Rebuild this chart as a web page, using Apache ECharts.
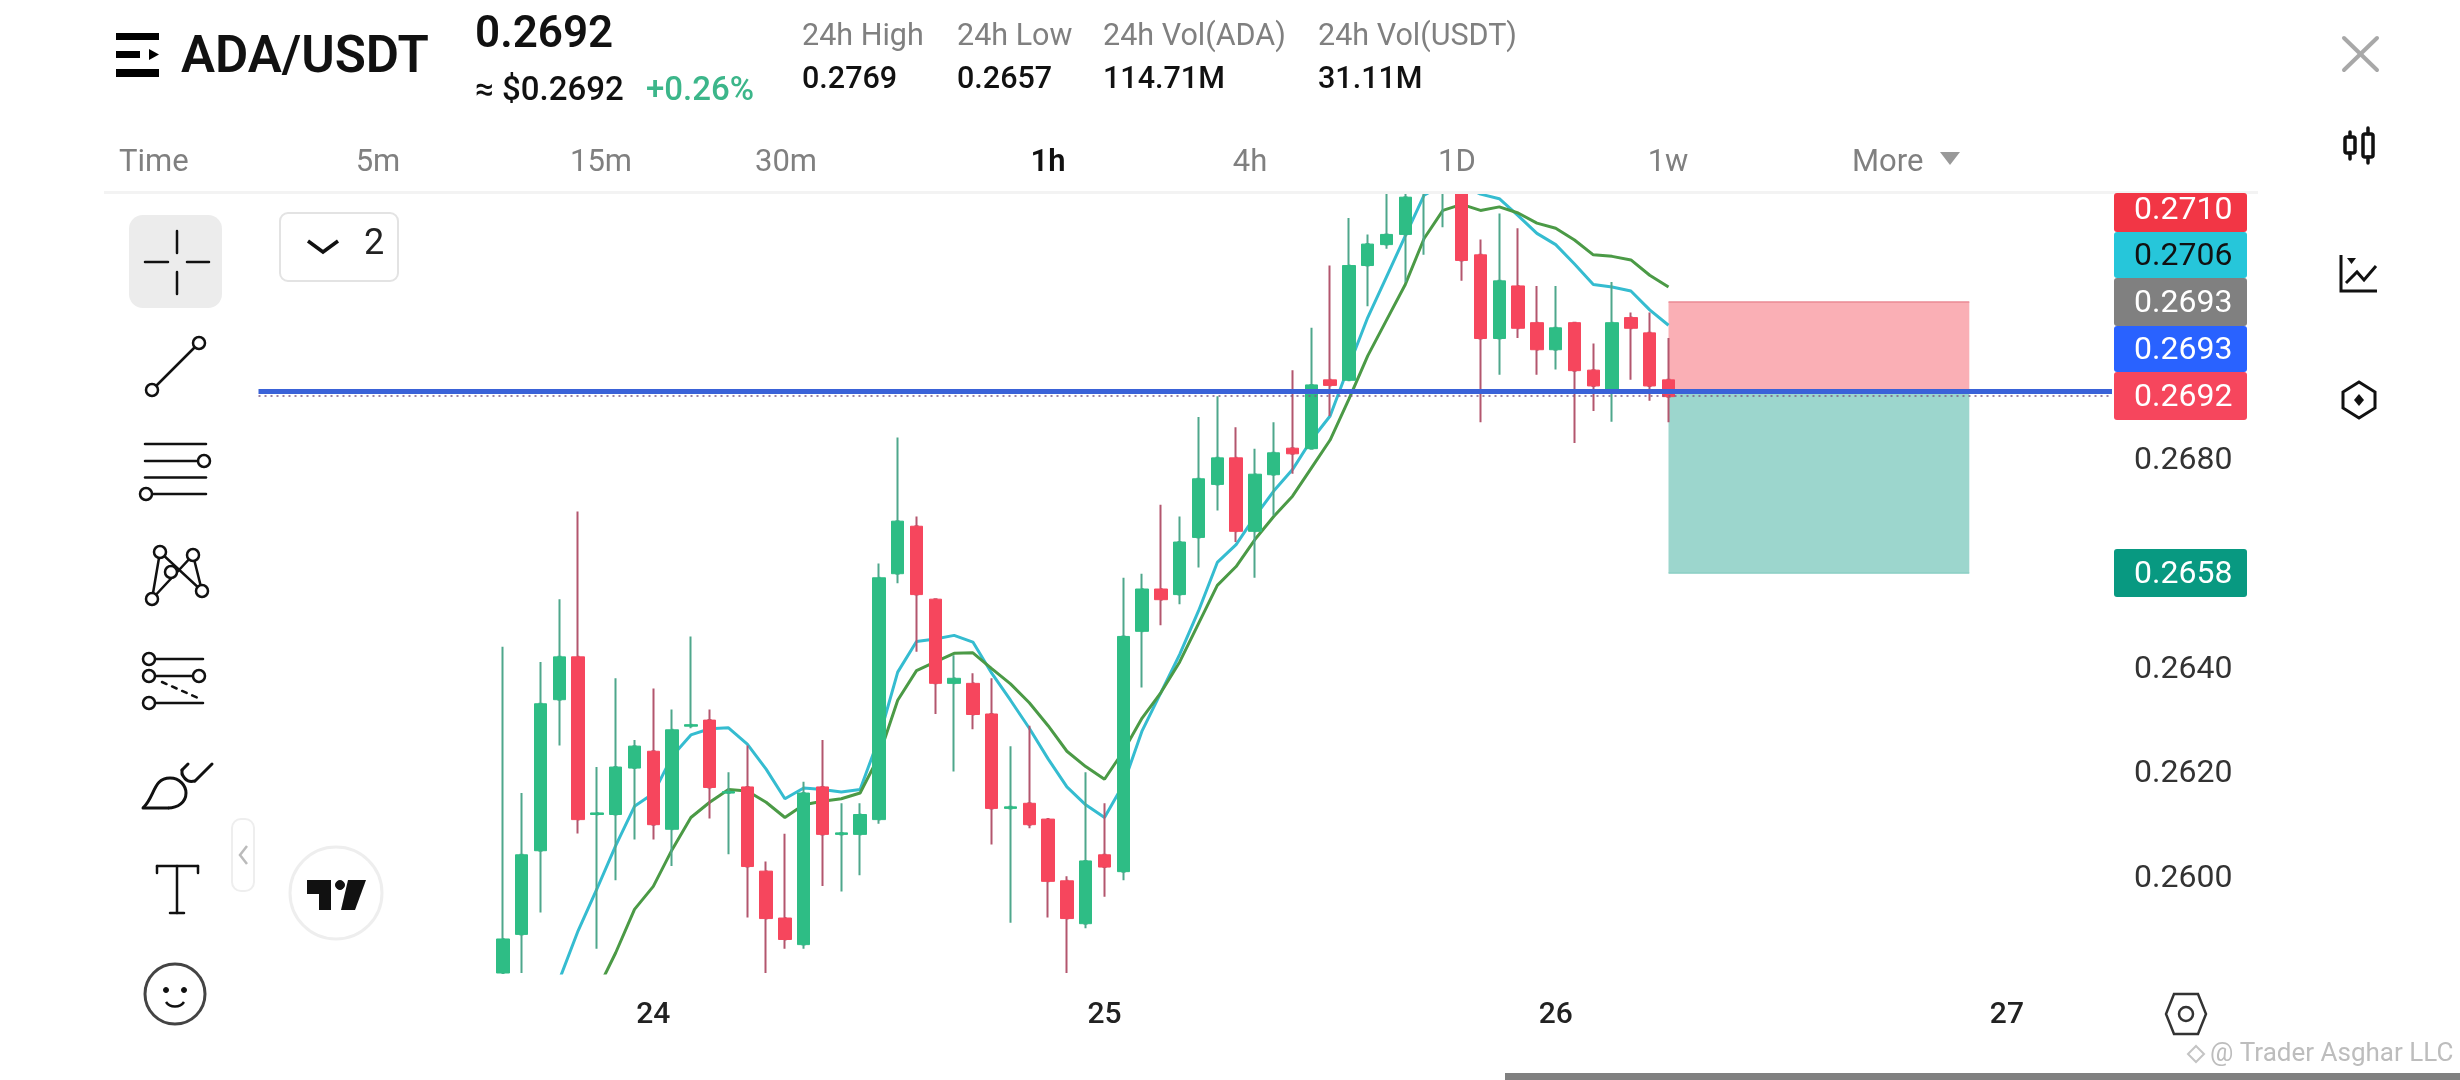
<!DOCTYPE html>
<html><head><meta charset="utf-8">
<style>html,body{margin:0;padding:0;background:#fff}#c{width:2460px;height:1080px}</style>
<script src="https://cdn.jsdelivr.net/npm/echarts@6/dist/echarts.min.js"></script>
</head><body><div id="c"></div>
<script>
// [open, close, low, high] for each 1h candle, first candle at 16:00 on the 23rd
const candles = [
[.257884,.258784,.257689,.264385],[.258872,.260397,.257880,.261580],[.260475,.263291,.259292,.264092],[.263369,.264190,.262489,.265295],
[.264190,.261071,.260807,.266976],[.261169,.261199,.258598,.262078],[.261169,.262078,.259908,.263779],[.262059,.262479,.260690,.262596],
[.262381,.260974,.260690,.263584],[.260886,.262792,.260182,.263183],[.262861,.262890,.262822,.264581],[.262978,.261687,.261091,.263183],
[.261580,.261609,.260407,.261981],[.261697,.260172,.259194,.262489],[.260084,.259175,.258080,.260270],[.259185,.258774,.258598,.260798],
[.258676,.261580,.258598,.261795],[.261697,.260788,.259801,.262596],[.260788,.260817,.259693,.261384],[.260788,.261169,.260003,.261384],
[.261071,.265705,.260993,.265979],[.265783,.266790,.265598,.268394],[.266693,.265383,.264288,.266878],[.265295,.263682,.263095,.265295],
[.263682,.263779,.261991,.264219],[.263682,.263085,.262802,.263877],[.263095,.261286,.260592,.263779],[.261286,.261316,.259097,.262479],
[.261384,.260974,.260905,.262870],[.261081,.259888,.259194,.261081],[.259899,.259175,.258080,.259986],[.259077,.260279,.258989,.261981],
[.260397,.260162,.259595,.261384],[.260074,.264581,.259908,.265705],[.264679,.265490,.263604,.265783],[.265490,.265285,.264796,.267103],
[.265383,.266390,.265197,.266878],[.266478,.267602,.265901,.268785],[.267494,.268003,.266996,.269185],[.268003,.266595,.266390,.268589],
[.266595,.267690,.265705,.268179],[.267680,.268100,.266898,.268687],[.268188,.268081,.267700,.269684],[.268179,.269401,.268179,.270495],
[.269498,.269391,.268804,.271688],[.269489,.271688,.269489,.272597],[.271688,.272099,.270906,.272284],[.272089,.272284,.272011,.273526],
[.272284,.272998,.271375,.273233],[.273331,.274406,.271893,.274895],[.274406,.273331,.272421,.274895],[.273331,.271786,.271395,.273526],
[.271893,.270290,.268687,.272187],[.270290,.271395,.269596,.272685],[.271297,.270486,.270300,.272402],[.270593,.270075,.269596,.271297],
[.270075,.270495,.269694,.271297],[.270593,.269674,.268286,.270593],[.269684,.269381,.268902,.270192],[.269273,.270593,.268697,.271375],
[.270691,.270486,.269498,.270789],[.270398,.269381,.269098,.270789],[.269498,.269176,.268687,.270300]];
// moving averages, index matched to candles (null: not drawn)
const maFast = [null,null,null,.258002,.258940,.259742,.260573,.261326,.261570,.262284,.262694,.262812,.262831,.262518,.262039,.261472,.261678,.261648,.261600,.261648,.262626,.263897,.264483,.264532,.264601,.264473,.263877,.263359,.262822,.262235,.261697,.261355,.261111,.261746,.262772,.263506,.264239,.265070,.265999,.266341,.266878,.267367,.267778,.268345,.268804,.269762,.270691,.271473,.272255,.273037,.273233,.273233,.273057,.272969,.272646,.272304,.272089,.271717,.271326,.271278,.271199,.270838,.270544];
const maSlow = [null,null,null,null,null,.257787,.258520,.259351,.259791,.260495,.261111,.261404,.261648,.261619,.261404,.261111,.261355,.261423,.261472,.261580,.262284,.263359,.263926,.264092,.264258,.264268,.263965,.263672,.263310,.262870,.262381,.262088,.261844,.262381,.263017,.263506,.264092,.264825,.265559,.265920,.266438,.266878,.267269,.267807,.268345,.269127,.269958,.270642,.271326,.272206,.272744,.272861,.272744,.272812,.272695,.272500,.272402,.272177,.271893,.271864,.271796,.271502,.271278];
const hours = candles.map((c, i) => 16 + i);
const dayTicks = [24, 48, 72, 96];
const dayLabels = {24:'24', 48:'25', 72:'26', 96:'27'};
const priceTicks = [0.2600, 0.2620, 0.2640, 0.2680];
const levelBlue = 0.26928, levelLast = 0.26919;
const posTop = 0.27099, posEntry = 0.26928, posBottom = 0.26580;
const posStart = 78, posEnd = 94;
const yMin = 0.258132, yMax = 0.273078;
const tagTexts = ['0.2710','0.2706','0.2693','0.2693','0.2692','0.2658'];
const tagColors = ['#f23645','#26c6da','#808080','#2962ff','#f6465d','#089981'];
const tagInk = ['#fff','#111','#fff','#fff','#fff','#fff'];
const tagBoxes = [[193,39],[232,46],[278,48],[326,46],[372,48],[549,48]];
const headerStats = [['24h High','0.2769',802],['24h Low','0.2657',957],['24h Vol(ADA)','114.71M',1103],['24h Vol(USDT)','31.11M',1318]];
const tabs = [['5m',378],['15m',601],['30m',786],['1h',1048],['4h',1250],['1D',1457],['1w',1668]];

const UP='#2ebd85', DOWN='#f6465d', UPW='#4fa78c', DOWNW='#b3566e', F='Roboto, sans-serif';
const gfx=[];
const add=o=>{o.z=o.z||100;o.silent=true;gfx.push(o)};
const T=(x,y,text,size,fill,weight,align)=>add({type:'text',style:{x,y,text,fill,font:`${weight||400} ${size}px ${F}`,textAlign:align||'left',textVerticalAlign:'middle'}});
const R=(x,y,w,h,fill,r,stroke,sw)=>add({type:'rect',shape:{x,y,width:w,height:h,r:r||0},style:{fill:fill||'none',stroke:stroke||'none',lineWidth:stroke?(sw||2):0}});
const L=(x1,y1,x2,y2,c,w,dash)=>add({type:'line',shape:{x1,y1,x2,y2},style:{stroke:c||'#111',lineWidth:w||2.5,lineDash:dash||null,lineCap:'round'}});
const C=(cx,cy,r,stroke,w,fill)=>add({type:'circle',shape:{cx,cy,r},style:{stroke:stroke||'#111',lineWidth:w||2.5,fill:fill||'#fff'}});
const P=(points,stroke,w,fill,closed)=>add({type:closed?'polygon':'polyline',shape:{points},style:{stroke:stroke||'none',lineWidth:w||2.5,fill:fill||'none'}});
const B=(x1,y1,cpx1,cpy1,cpx2,cpy2,x2,y2,w)=>add({type:'bezierCurve',shape:{x1,y1,cpx1,cpy1,cpx2,cpy2,x2,y2},style:{stroke:'#111',lineWidth:w||2.5,fill:'none'}});

// header
R(116,33,43,7,'#000');R(116,51,24,7,'#000');P([[149,49],[159,54.5],[149,60]],null,0,'#000',true);R(116,69,43,8,'#000');
T(181,59,'ADA/USDT',51,'#111',600);
T(475,36,'0.2692',44,'#111',600);
T(475,92,'≈ $0.2692',33,'#111',500);
T(646,92,'+0.26%',33,'#3cb68a',500);
headerStats.forEach(s=>{T(s[2],37,s[0],30.5,'#808080');T(s[2],80,s[1],30.5,'#111',500)});
T(119,163,'Time',31,'#808080');
tabs.forEach(t=>T(t[1],163,t[0],31,t[0]==='1h'?'#111':'#808080',t[0]==='1h'?600:400,'center'));
T(1852,163,'More',31,'#808080');
P([[1940,152],[1960,152],[1950,165]],null,0,'#999',true);
R(104,191,2154,3,'#f3f3f3');

// price tags
tagBoxes.forEach((b,i)=>{R(2114,b[0],133,b[1],tagColors[i],3);T(2134,b[0]+b[1]/2+(i===0?-2:2),tagTexts[i],32,tagInk[i])});

// right icons
L(2344,38,2377,70,'#a8a8a8',4);L(2377,38,2344,70,'#a8a8a8',4);
R(2345,137,10,16,'none',2,'#111',3.5);L(2350,132,2350,137,'#111',3.5);L(2350,153,2350,159,'#111',3.5);
R(2363,134,10,23,'none',2,'#111',3.5);L(2368,128,2368,134,'#111',3.5);L(2368,157,2368,163,'#111',3.5);
P([[2341,255],[2341,291],[2377,291]],'#111',3);
P([[2347,258],[2356,258],[2351.5,264]],null,0,'#111',true);
P([[2346,283],[2357,272],[2364,280],[2376,266]],'#111',3);
P([[2359,382],[2375,392],[2375,408],[2359,418],[2343,408],[2343,392]],'#111',3,'none',true);
P([[2359,394],[2364,400],[2359,406],[2354,400]],null,0,'#111',true);
P([[2174,994],[2198,994],[2206,1014],[2198,1034],[2174,1034],[2166,1014]],'#333',2.5,'none',true);
C(2186,1014,7,'#333',2.5,'none');

// left tools
R(129,215,93,93,'#ececec',14);
L(145,262,168,262);L(187,262,209,262);L(177,231,177,253);L(177,272,177,294);
L(152,390,199,343);C(152,390,6);C(199,343,6);
L(145,444,206,444);L(145,461,204,461);L(145,477.5,206,477.5);L(146,494,206,494);C(204,461,6);C(146,494,6);
P([[152,599],[160,552],[202,591],[193,555],[152,599]],'#111',2.5);C(160,552,6);C(193,555,6);C(171,572,6);C(202,591,6);C(152,599,6);
L(149,659,203,659);L(149,676,199,676);L(149,703,203,703);L(162,682,198,698,'#111',2.5,[5,6]);C(149,659,6);C(149,676,6);C(199,676,6);C(149,703,6);
B(143,808,155,797,153,778,170,778,3);B(170,778,180,778,186,786,186,793,3);B(186,793,186,802,178,808,168,808,3);L(168,808,143,808,'#111',3);
L(188,764,182,770,'#111',3);L(182,770,182,774,'#111',3);B(182,774,186,782,190,782,195,781,3);L(195,781,212,764,'#111',3);
L(157,866,198,866);L(157,866,157,873);L(198,866,198,873);L(177,866,177,913);L(170,913,184,913);
C(175,994,30,'#444',3);C(166,990,2.5,'#111',1,'#111');C(184,990,2.5,'#111',1,'#111');B(166,1002,170,1008,180,1008,184,1002);
R(232,819,22,72,'#fff',9,'#eeeeee');P([[247,846],[240,855],[247,864]],'#bbb',2.5);
R(280,213,118,68,'#fff',8,'#e3e3e3');P([[308,241],[323,252],[338,241]],'#111',3.5);T(364,245,'2',36,'#222');
C(336,893,46,'#eeeeee',3);
P([[307,880],[331,880],[331,910],[319,910],[319,894],[307,894]],null,0,'#111',true);C(340,885,4.5,'#111',1,'#111');
P([[348,880],[366,880],[355,910],[341,910]],null,0,'#111',true);

// footer
R(1505,1073,955,7,'#808080');
P([[2196,1046],[2204,1054],[2196,1062],[2188,1054]],'#c4c4c4',2,'none',true);
T(2210,1054,'@ Trader Asghar LLC',26,'#bdbdbd');

const clampY=v=>Math.max(yMin,Math.min(yMax,v));
const wick = hours.map((h,i)=>[h,...candles[i].map(clampY)]);
const body = hours.map((h,i)=>{const c=candles[i].map(clampY);return [h,c[0],c[1],Math.min(c[0],c[1]),Math.max(c[0],c[1])]});
const hpair=(y,x1,x2)=>[{xAxis:x1,yAxis:y},{xAxis:x2,yAxis:y}];

echarts.init(document.getElementById('c'),null,{renderer:'canvas'}).setOption({
 animation:false,backgroundColor:'#fff',
 grid:{left:258.5,right:348,top:193,bottom:107},
 xAxis:{type:'value',min:3,max:101.59,splitLine:{show:false},axisLine:{show:false},axisTick:{show:false},
   axisLabel:{customValues:dayTicks,formatter:v=>dayLabels[v],fontFamily:F,fontSize:30,fontWeight:500,color:'#222',margin:27}},
 yAxis:{type:'value',position:'right',min:yMin,max:yMax,scale:true,splitLine:{show:false},axisLine:{show:false},axisTick:{show:false},
   axisLabel:{customValues:priceTicks,formatter:v=>'{a|'+v.toFixed(4)+'}',margin:22,align:'left',
     rich:{a:{fontFamily:F,fontSize:32,color:'#333',padding:[6,0,0,0]}}}},
 series:[
  {type:'line',name:'MA fast',z:2,data:hours.map((h,i)=>[h,maFast[i]]),showSymbol:false,lineStyle:{color:'#35bcd0',width:3},itemStyle:{color:'#35bcd0'},connectNulls:false},
  {type:'line',name:'MA slow',z:2,data:hours.map((h,i)=>[h,maSlow[i]]),showSymbol:false,lineStyle:{color:'#4b9a46',width:3},itemStyle:{color:'#4b9a46'},connectNulls:false},
  {type:'candlestick',z:3,barWidth:2,encode:{x:0,y:[1,2,3,4]},data:wick,itemStyle:{color:UPW,color0:DOWNW,borderColor:UPW,borderColor0:DOWNW,borderColorDoji:UPW,borderWidth:2}},
  {type:'candlestick',z:4,barWidth:13,encode:{x:0,y:[1,2,3,4]},data:body,itemStyle:{color:UP,color0:DOWN,borderColor:UP,borderColor0:DOWN,borderWidth:1}},
  {type:'line',z:5,data:[],
   markLine:{silent:true,symbol:'none',animation:false,precision:6,label:{show:false},data:[
     {yAxis:levelBlue,lineStyle:{color:'#3a62d8',width:5,type:'solid'}},
     {yAxis:levelLast,lineStyle:{color:'#7c5a86',width:1.6,type:[2,4]}}]}},
  {type:'line',z:6,data:[],
   markArea:{silent:true,animation:false,data:[
     [{xAxis:posStart,yAxis:posTop,itemStyle:{color:'rgba(242,54,69,0.4)'}},{xAxis:posEnd,yAxis:posEntry}],
     [{xAxis:posStart,yAxis:posEntry,itemStyle:{color:'rgba(8,153,129,0.4)'}},{xAxis:posEnd,yAxis:posBottom}]]},
   markLine:{silent:true,symbol:'none',animation:false,precision:6,label:{show:false},lineStyle:{width:1.5,type:'solid'},data:[
     hpair(posTop,posStart,posEnd).map((p,i)=>i?p:{...p,lineStyle:{color:'#ea8a94',width:1.5,type:'solid'}}),
     hpair(posBottom,posStart,posEnd).map((p,i)=>i?p:{...p,lineStyle:{color:'#85ccc0',width:1.5,type:'solid'}})]}}
 ],
 graphic:{elements:gfx}
});
</script></body></html>
